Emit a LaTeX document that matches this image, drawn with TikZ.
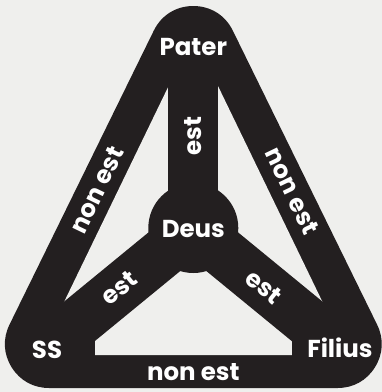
\documentclass[tikz,border=0pt]{standalone}
\usepackage{fontspec}
\setmainfont{Poppins}
\definecolor{paper}{RGB}{239,239,237}
\definecolor{ink}{RGB}{35,31,32}
\begin{document}
\begin{tikzpicture}[x=1pt,y=-1pt,
  lbl/.style={text=white,font=\fontsize{24.5}{24.5}\selectfont\bfseries,inner sep=0pt},
  spoke/.style={draw=ink,line width=50pt}]
\fill[paper] (0,0) rectangle (382,392);
% outer hull centres
\coordinate (oT) at (193.3,50);
\coordinate (oL) at (49,344);
\coordinate (oR) at (337.6,344);
% inner triangle
\coordinate (iT) at (193.3,35);
\coordinate (iL) at (38.4,355);
\coordinate (iR) at (348.2,355);
\coordinate (C) at (193.3,228);
\filldraw[ink,line width=88pt,line join=round] (oT) -- (oL) -- (oR) -- cycle;
\fill[paper] (iT) -- (iL) -- (iR) -- cycle;
\draw[spoke] (C) -- (iT);
\draw[spoke] (C) -- (iL);
\draw[spoke] (C) -- (iR);
\fill[ink] (C) circle (45);
\fill[ink] (30,330) rectangle (95,360);
\fill[ink] (291.6,330) rectangle (356,360);
% labels
\node[lbl] (pater) at (193.3,47) {Pater};
\node[lbl] (deus) at (193.3,229) {Deus};
\node[lbl] (ss) at (47,350) {SS};
\node[lbl] (filius) at (340,348) {Filius};
\node[lbl] (nb) at (193.3,372) {non est};
\node[lbl,rotate=90] (e1) at (193.3,136) {est};
\node[lbl,rotate=64.3] (nl) at (97,190) {non est};
\node[lbl,rotate=-64.3] (nr) at (292,191) {non est};
\node[lbl,rotate=39.2] (e2) at (119,288) {est};
\node[lbl,rotate=-39.2] (e3) at (264,287) {est};
\end{tikzpicture}
\end{document}
